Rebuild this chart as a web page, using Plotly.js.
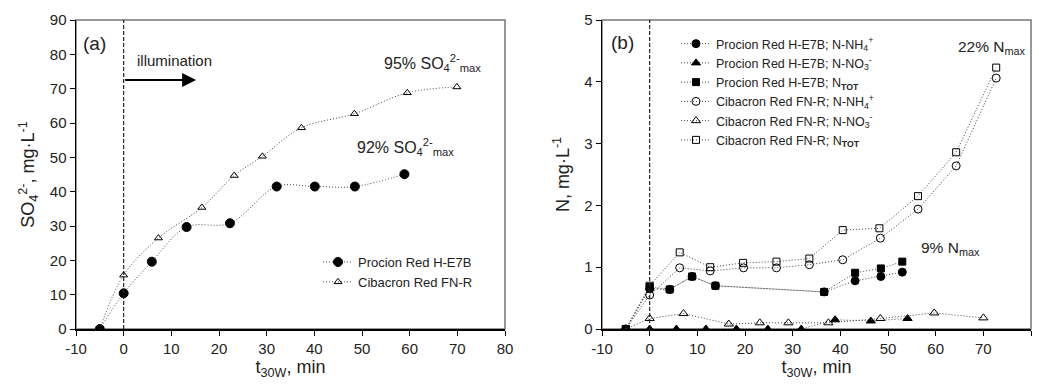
<!DOCTYPE html>
<html><head><meta charset="utf-8">
<script src="https://cdn.plot.ly/plotly-3.0.1.min.js"></script>
<style>html,body{margin:0;padding:0;background:#fff}#chart{width:1039px;height:384px}</style>
</head><body><div id="chart"></div>
<script>
// Panel (a): sulfate
const a_procion_t = [-5, 0, 5.9, 13.2, 22.3, 32.1, 40.1, 48.5, 58.9];
const a_procion_so4 = [0, 10.4, 19.6, 29.7, 30.8, 41.5, 41.5, 41.5, 45.1];
const a_cibacron_t = [-5, 0, 7.3, 16.4, 23.2, 29.1, 37.3, 48.4, 59.5, 69.9];
const a_cibacron_so4 = [0, 15.7, 26.5, 35.4, 44.7, 50.3, 58.6, 62.7, 68.8, 70.5];

// Panel (b): nitrogen
const b_pro_nh4_t = [-5, 0, 4.2, 8.9, 13.8, 36.6, 43.1, 48.5, 53.0];
const b_pro_nh4 = [0, 0.65, 0.64, 0.85, 0.70, 0.60, 0.78, 0.85, 0.92];
const b_pro_no3_t = [-5, 0, 5.6, 11.8, 18.2, 24.8, 31.8, 38.9, 46.4, 54.1];
const b_pro_no3 = [0, 0, 0, 0, 0, 0, 0, 0.15, 0.13, 0.17];
const b_pro_tot_t = [-5, 0, 4.2, 8.9, 13.8, 36.6, 43.1, 48.5, 53.0];
const b_pro_tot = [0, 0.68, 0.64, 0.85, 0.70, 0.60, 0.91, 0.98, 1.09];
const b_cib_nh4_t = [-5, 0, 6.3, 12.7, 19.7, 26.6, 33.5, 40.5, 48.4, 56.3, 64.3, 72.7];
const b_cib_nh4 = [0, 0.55, 0.99, 0.94, 0.99, 0.99, 1.04, 1.12, 1.47, 1.94, 2.64, 4.06];
const b_cib_no3_t = [-5, 0, 7.1, 16.6, 23.1, 29.1, 37.5, 48.4, 59.7, 70.0];
const b_cib_no3 = [0, 0.17, 0.25, 0.08, 0.10, 0.10, 0.10, 0.17, 0.26, 0.18];
const b_cib_tot_t = [-5, 0, 6.3, 12.7, 19.6, 26.6, 33.5, 40.5, 48.2, 56.3, 64.3, 72.7];
const b_cib_tot = [0, 0.70, 1.24, 1.00, 1.07, 1.09, 1.14, 1.60, 1.63, 2.15, 2.86, 4.23];

const xTicks = [-10, 0, 10, 20, 30, 40, 50, 60, 70, 80];
const xTickText = ['-10', '0', '10', '20', '30', '40', '50', '60', '70', '80'];

const lineStyle = (shape) => ({color: '#444', width: 1, dash: '1px,2px', shape: shape});
const FONT = 'Liberation Sans, Arial, sans-serif';

function tr(x, y, name, symbol, size, xa, ya, legend, shape) {
  return {
    x: x, y: y, name: name, type: 'scatter', mode: 'lines+markers',
    xaxis: xa, yaxis: ya, legend: legend,
    line: lineStyle(shape),
    marker: {symbol: symbol, size: size, color: '#000', line: {color: '#000', width: 1}}
  };
}

const traces = [
  tr(a_procion_t, a_procion_so4, 'Procion Red H-E7B', 'circle', 9, 'x', 'y', 'legend', 'spline'),
  tr(a_cibacron_t, a_cibacron_so4, 'Cibacron Red FN-R', 'triangle-up-open', 7, 'x', 'y', 'legend', 'spline'),
  tr(b_pro_nh4_t, b_pro_nh4, 'Procion Red H-E7B; N-NH<sub>4</sub><sup>+</sup>', 'circle', 8, 'x2', 'y2', 'legend2', 'linear'),
  tr(b_pro_no3_t, b_pro_no3, 'Procion Red H-E7B; N-NO<sub>3</sub><sup>-</sup>', 'triangle-up', 8, 'x2', 'y2', 'legend2', 'linear'),
  tr(b_pro_tot_t, b_pro_tot, 'Procion Red H-E7B; N<sub><b>TOT</b></sub>', 'square', 7, 'x2', 'y2', 'legend2', 'linear'),
  tr(b_cib_nh4_t, b_cib_nh4, 'Cibacron Red FN-R; N-NH<sub>4</sub><sup>+</sup>', 'circle-open', 8, 'x2', 'y2', 'legend2', 'linear'),
  tr(b_cib_no3_t, b_cib_no3, 'Cibacron Red FN-R; N-NO<sub>3</sub><sup>-</sup>', 'triangle-up-open', 8, 'x2', 'y2', 'legend2', 'linear'),
  tr(b_cib_tot_t, b_cib_tot, 'Cibacron Red FN-R; N<sub><b>TOT</b></sub>', 'square-open', 7, 'x2', 'y2', 'legend2', 'linear')
];

const W = 1039, H = 384;
const px = v => v / W, py = v => 1 - v / H;

function xaxis(domain, anchor) {
  return {
    domain: domain, anchor: anchor, range: [-10, 80], tickvals: xTicks, ticktext: xTickText,
    showgrid: false, zeroline: false, showline: true, linecolor: '#000', linewidth: 1.5,
    ticks: 'outside', ticklen: 5, tickcolor: '#000', tickwidth: 1,
    tickfont: {family: FONT, size: 15, color: '#222'},
    title: {text: 't<sub>30W</sub>, min', font: {family: FONT, size: 18, color: '#222'}, standoff: 5}
  };
}
function yaxis(domain, anchor, range, dtick, title, standoff) {
  return {
    domain: domain, anchor: anchor, range: range, dtick: dtick, tick0: 0,
    showgrid: false, zeroline: false, showline: true, linecolor: '#000', linewidth: 1.5,
    ticks: 'outside', ticklen: 5, tickcolor: '#000', tickwidth: 1,
    tickfont: {family: FONT, size: 15, color: '#222'},
    title: {text: title, font: {family: FONT, size: 18, color: '#222'}, standoff: standoff}
  };
}

const dxA = [px(76), px(505)];
const dxB = [px(602), px(1031)];
const dy = [py(329), py(20)];

const layout = {
  width: W, height: H,
  margin: {l: 0, r: 0, t: 0, b: 0},
  paper_bgcolor: '#fff', plot_bgcolor: '#fff',
  font: {family: FONT, color: '#222'},
  xaxis: xaxis(dxA, 'y'),
  yaxis: yaxis(dy, 'x', [0, 90], 10, 'SO<sub>4</sub><sup>2-</sup>, mg·L<sup>-1</sup>', 10),
  xaxis2: xaxis(dxB, 'y2'),
  yaxis2: yaxis(dy, 'x2', [0, 5], 1, 'N, mg·L<sup>-1</sup>', 10),
  legend: {
    x: px(318), y: py(247), xanchor: 'left', yanchor: 'top',
    bgcolor: 'rgba(0,0,0,0)', borderwidth: 0,
    font: {family: FONT, size: 13, color: '#222'}
  },
  legend2: {
    x: px(676), y: py(29), xanchor: 'left', yanchor: 'top',
    bgcolor: 'rgba(0,0,0,0)', borderwidth: 0,
    font: {family: FONT, size: 12.5, color: '#222'}
  },
  shapes: [
    {type: 'rect', xref: 'x domain', yref: 'y domain', x0: 0, x1: 1, y0: 0, y1: 1,
     line: {color: '#777', width: 1.5}, layer: 'below'},
    {type: 'rect', xref: 'x2 domain', yref: 'y2 domain', x0: 0, x1: 1, y0: 0, y1: 1,
     line: {color: '#777', width: 1.5}, layer: 'below'},
    {type: 'line', xref: 'x', yref: 'y domain', x0: 0, x1: 0, y0: 0, y1: 1,
     line: {color: '#222', width: 1.2, dash: '4px,2px'}},
    {type: 'line', xref: 'x2', yref: 'y2 domain', x0: 0, x1: 0, y0: 0, y1: 1,
     line: {color: '#222', width: 1.2, dash: '4px,2px'}}
  ],
  annotations: [
    {xref: 'x', yref: 'y', x: -6.2, y: 83.3, text: '(a)', showarrow: false,
     font: {family: FONT, size: 19, color: '#222'}},
    {xref: 'x', yref: 'y', x: 15.2, y: 72.5, ax: 0, ay: 72.5, axref: 'x', ayref: 'y',
     text: '', showarrow: true, arrowhead: 2, arrowsize: 1.4, arrowwidth: 2, arrowcolor: '#000'},
    {xref: 'x', yref: 'y', x: 2.3, y: 78.3, xanchor: 'left', text: 'illumination', showarrow: false,
     font: {family: FONT, size: 15, color: '#222'}},
    {xref: 'x', yref: 'y', x: 54.2, y: 77.5, xanchor: 'left',
     text: '95% SO<sub>4</sub><sup>2-</sup><sub>max</sub>', showarrow: false,
     font: {family: FONT, size: 16, color: '#222'}},
    {xref: 'x', yref: 'y', x: 48.6, y: 53, xanchor: 'left',
     text: '92% SO<sub>4</sub><sup>2-</sup><sub>max</sub>', showarrow: false,
     font: {family: FONT, size: 16, color: '#222'}},
    {xref: 'x2', yref: 'y2', x: -5.6, y: 4.63, text: '(b)', showarrow: false,
     font: {family: FONT, size: 19, color: '#222'}},
    {xref: 'x2', yref: 'y2', x: 64.3, y: 4.55, xanchor: 'left',
     text: '22% N<sub>max</sub>', showarrow: false,
     font: {family: FONT, size: 15.5, color: '#222'}},
    {xref: 'x2', yref: 'y2', x: 56.4, y: 1.31, xanchor: 'left',
     text: '9% N<sub>max</sub>', showarrow: false,
     font: {family: FONT, size: 15.5, color: '#222'}}
  ]
};

Plotly.newPlot('chart', traces, layout, {staticPlot: true, displayModeBar: false});
</script></body></html>
